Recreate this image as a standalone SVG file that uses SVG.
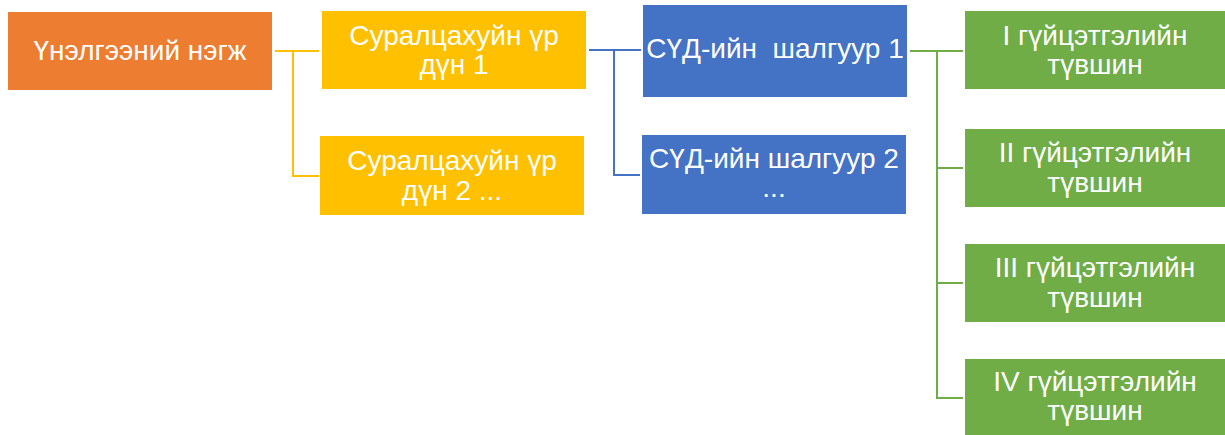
<svg xmlns="http://www.w3.org/2000/svg" width="1225" height="435" viewBox="0 0 1225 435">
<style>
text{font-family:"Liberation Sans",Arial,sans-serif;font-size:28px;fill:#fff;text-anchor:middle}
.c{fill:none;stroke-width:2}
</style>
<rect width="1225" height="435" fill="#fff"/>
<g id="connectors">
<path class="c" stroke="#FFC000" d="M275 51H319M293 51V176H319"/>
<path class="c" stroke="#4472C4" d="M589 50H641M614 50V175H640"/>
<path class="c" stroke="#70AD47" d="M910 51H963M937 51V398H963M937 168H963M937 283H963"/>
</g>
<g id="n0"><rect x="8" y="12" width="264" height="78" fill="#ED7D31"/><text x="140" y="60">Үнэлгээний нэгж</text></g>
<g id="n1"><rect x="322" y="11" width="264" height="78" fill="#FFC000"/><text x="454" y="45">Суралцахуйн үр</text><text x="454" y="74">дүн 1</text></g>
<g id="n2"><rect x="320" y="136" width="264" height="79" fill="#FFC000"/><text x="452" y="170">Суралцахуйн үр</text><text x="452" y="200">дүн 2 ...</text></g>
<g id="n3"><rect x="643" y="5" width="264" height="92" fill="#4472C4"/><text x="775" y="58" xml:space="preserve">СҮД-ийн  шалгуур 1</text></g>
<g id="n4"><rect x="642" y="135" width="264" height="79" fill="#4472C4"/><text x="774" y="168">СҮД-ийн шалгуур 2</text><text x="774" y="197">...</text></g>
<g id="n5"><rect x="965" y="11" width="260" height="78" fill="#70AD47"/><text x="1095" y="45">I гүйцэтгэлийн</text><text x="1095" y="74">түвшин</text></g>
<g id="n6"><rect x="965" y="129" width="260" height="78" fill="#70AD47"/><text x="1095" y="162">II гүйцэтгэлийн</text><text x="1095" y="192">түвшин</text></g>
<g id="n7"><rect x="965" y="244" width="260" height="78" fill="#70AD47"/><text x="1095" y="277">III гүйцэтгэлийн</text><text x="1095" y="307">түвшин</text></g>
<g id="n8"><rect x="965" y="359" width="260" height="76" fill="#70AD47"/><text x="1095" y="391">IV гүйцэтгэлийн</text><text x="1095" y="420">түвшин</text></g>
</svg>
